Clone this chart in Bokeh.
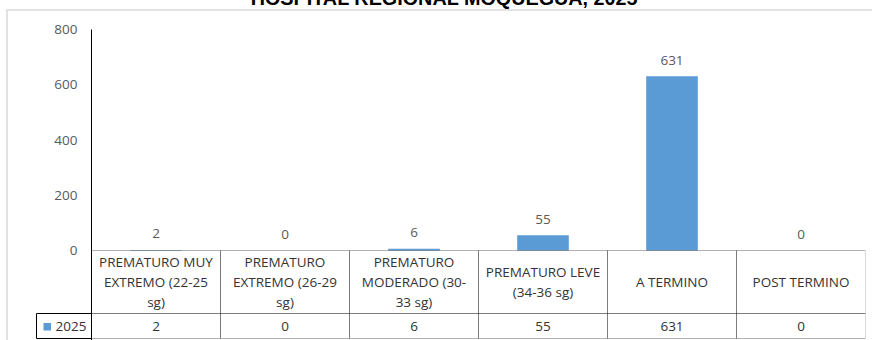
from bokeh.plotting import figure
from bokeh.models import (FactorRange, Range1d, FixedTicker, BoxAnnotation,
                          ColumnDataSource)
from bokeh.core.properties import value
from bokeh.embed import file_html
from bokeh.resources import INLINE

# ---------------- data ----------------
title_text = "HOSPITAL REGIONAL MOQUEGUA, 2025"
categories = [
    "PREMATURO MUY EXTREMO (22-25 sg)",
    "PREMATURO EXTREMO (26-29 sg)",
    "PREMATURO MODERADO (30-33 sg)",
    "PREMATURO LEVE (34-36 sg)",
    "A TERMINO",
    "POST TERMINO",
]
category_labels = [
    "PREMATURO MUY\nEXTREMO (22-25\nsg)",
    "PREMATURO\nEXTREMO (26-29\nsg)",
    "PREMATURO\nMODERADO (30-\n33 sg)",
    "PREMATURO LEVE\n(34-36 sg)",
    "A TERMINO",
    "POST TERMINO",
]
series_name = "2025"
values_2025 = [2, 0, 6, 55, 631, 0]
y_ticks = [0, 200, 400, 600, 800]

# ---------------- layout (pixels) ----------------
W, H = 872, 340
FRAME_L, FRAME_R, FRAME_T = 91, 865, 29
ZERO_PX = 250
PPU = (ZERO_PX - FRAME_T) / 800.0
COL_W = (FRAME_R - FRAME_L) / len(categories)


def ydata(py):
    return (ZERO_PX - py) / PPU


def xdata(px):
    return (px - FRAME_L) / COL_W


BLUE = "#5B9BD5"
FONT = "Open Sans"
FS = "13.5px"
TABLE_TEXT = "#333333"

p = figure(
    x_range=FactorRange(factors=categories),
    y_range=Range1d(ydata(H), 800),
    width=W, height=H,
    output_backend="svg", toolbar_location=None,
    x_axis_location=None, y_axis_location="left",
    min_border_left=FRAME_L, min_border_right=W - FRAME_R,
    min_border_top=FRAME_T, min_border_bottom=0,
)
p.outline_line_color = None
p.grid.visible = False
p.background_fill_color = "white"
p.border_fill_color = "white"

ax = p.yaxis[0]
ax.ticker = FixedTicker(ticks=y_ticks)
ax.axis_line_color = "black"
ax.axis_line_width = 1
ax.major_tick_line_color = None
ax.minor_tick_line_color = None
ax.major_tick_out = 0
ax.major_tick_in = 0
ax.major_label_standoff = 14
ax.major_label_text_font = FONT
ax.major_label_text_font_size = FS
ax.major_label_text_color = "#595959"

src = ColumnDataSource(dict(
    cat=categories,
    lab=category_labels,
    val=values_2025,
    txt=[str(v) for v in values_2025],
))

# bars
p.vbar(x="cat", top="val", width=0.4, bottom=0, source=src,
       fill_color=BLUE, line_color=None)

# value labels above bars
p.text(x="cat", y="val", text="txt", source=src, text_align="center",
       text_baseline="middle", y_offset=-16, text_font=value(FONT),
       text_font_size=FS, text_color="#595959")

# ---------------- data table ----------------
y_row1_top = 0
y_row1_bot = ydata(313)
y_row2_bot = ydata(338)

for i in range(len(categories)):
    for (t, b) in ((y_row1_top, y_row1_bot), (y_row1_bot, y_row2_bot)):
        p.add_layout(BoxAnnotation(left=i, right=i + 1, top=t, bottom=b,
                                   fill_alpha=0, line_color="black",
                                   line_width=1))

# legend cell (outside the plotting frame -> overlay level, not clipped)
p.quad(left=[xdata(36)], right=[0], top=[y_row1_bot], bottom=[y_row2_bot],
       fill_alpha=0, line_color="black", line_width=1, level="overlay")
p.quad(left=[xdata(43)], right=[xdata(50.5)], top=[ydata(322.5)],
       bottom=[ydata(330)], fill_color=BLUE, line_color=None,
       level="overlay")
p.text(x=[xdata(55)], y=[(y_row1_bot + y_row2_bot) / 2], text=[series_name],
       text_align="left", text_baseline="middle", text_font=value(FONT),
       text_font_size=FS, text_color=TABLE_TEXT, level="overlay")

# header row (category names)
p.text(x="cat", y=(y_row1_top + y_row1_bot) / 2, text="lab", source=src,
       text_align="center", text_baseline="middle", text_font=value(FONT),
       text_font_size=FS, text_color=TABLE_TEXT, text_line_height=1.1)

# value row
p.text(x="cat", y=(y_row1_bot + y_row2_bot) / 2, text="txt", source=src,
       text_align="center", text_baseline="middle", text_font=value(FONT),
       text_font_size=FS, text_color=TABLE_TEXT)

# outer chart border (light gray)
p.quad(left=[xdata(6.5)], right=[xdata(W + 50)], top=[ydata(9.5)],
       bottom=[ydata(H + 50)], fill_alpha=0, line_color="#D9D9D9",
       line_width=1.5, level="overlay")

# title (cut off at the top in the original)
p.text(x=[xdata(444)], y=[ydata(-2.5)], text=[title_text],
       text_align="center", text_baseline="alphabetic",
       text_font=value("Liberation Sans"), text_font_style="bold",
       text_font_size="19.8px", text_color="black", level="overlay")

open("out.html", "w").write(file_html(p, INLINE))
